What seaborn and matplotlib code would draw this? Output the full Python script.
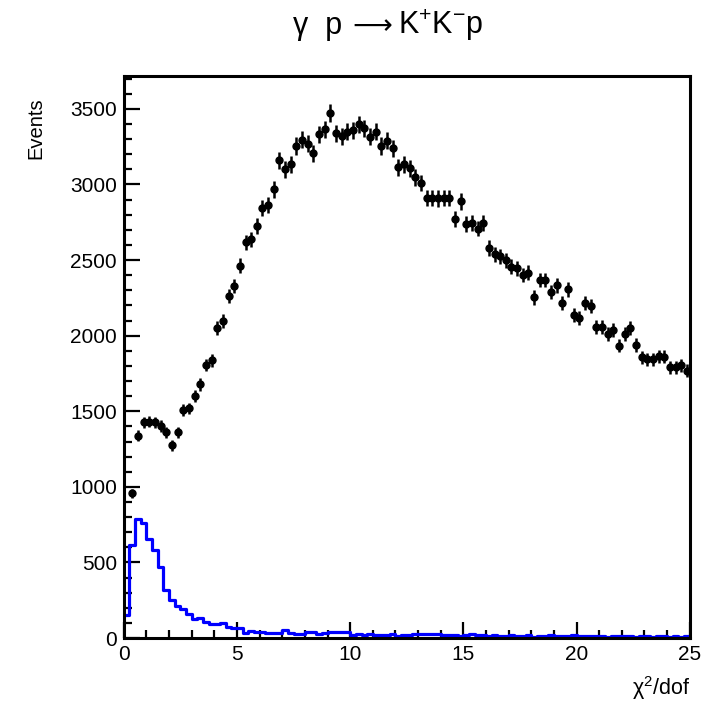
import numpy as np
import pandas as pd
import matplotlib
matplotlib.use("Agg")
import matplotlib.pyplot as plt
import seaborn as sns

# chi2/dof binning: 100 bins of width 0.25 from 0 to 25
bin_edges = np.arange(0, 25.001, 0.25)

# data points (black), first bin is empty
data_centers = np.arange(0.375, 25, 0.25)
data_counts = [
    957, 1338, 1427, 1431, 1427, 1402, 1360, 1276, 1360, 1508,
    1519, 1600, 1678, 1806, 1839, 2052, 2097, 2262, 2328, 2462,
    2617, 2637, 2728, 2845, 2864, 2967, 3159, 3101, 3134, 3254,
    3296, 3270, 3206, 3332, 3365, 3472, 3338, 3318, 3349, 3357,
    3397, 3371, 3316, 3349, 3254, 3289, 3239, 3113, 3135, 3106,
    3047, 3011, 2912, 2912, 2908, 2912, 2912, 2770, 2888, 2740,
    2743, 2708, 2745, 2580, 2537, 2526, 2500, 2456, 2445, 2401,
    2416, 2253, 2368, 2368, 2290, 2333, 2218, 2306, 2136, 2118,
    2218, 2196, 2059, 2059, 2011, 2037, 1933, 2011, 2052, 1938,
    1857, 1845, 1845, 1865, 1860, 1790, 1790, 1805, 1768,
]

# second distribution (blue histogram), one value per bin
blue_counts = [
    152, 615, 785, 759, 653, 582, 467, 317, 251, 212,
    190, 159, 126, 130, 108, 93, 93, 97, 75, 68,
    64, 31, 46, 42, 42, 35, 35, 31, 53, 31,
    29, 29, 40, 38, 29, 35, 40, 38, 42, 40,
    22, 24, 22, 25, 20, 22, 18, 24, 16, 20,
    22, 25, 28, 24, 30, 26, 22, 18, 20, 16,
    20, 24, 18, 20, 16, 18, 14, 16, 18, 12,
    16, 20, 10, 16, 14, 18, 12, 16, 14, 18,
    12, 14, 16, 12, 14, 10, 14, 12, 16, 12,
    10, 14, 12, 10, 14, 12, 10, 12, 8, 12,
]

sns.set_style("ticks")
plt.rcParams["font.family"] = ["Liberation Sans", "DejaVu Sans"]
plt.rcParams["mathtext.default"] = "regular"
plt.rcParams["text.color"] = "black"
plt.rcParams["xtick.labelcolor"] = "black"
plt.rcParams["ytick.labelcolor"] = "black"

fig = plt.figure(figsize=(7.2, 7.21), dpi=100)
ax = fig.add_axes([0.172, 0.115, 0.786, 0.7795])

blue_df = pd.DataFrame({
    "chi2": (bin_edges[:-1] + bin_edges[1:]) / 2,
    "counts": blue_counts,
})
sns.histplot(data=blue_df, x="chi2", weights="counts", bins=list(bin_edges),
             element="step", fill=False, color="#0000ff", linewidth=2.3, ax=ax)

data_counts = np.array(data_counts, dtype=float)
ax.errorbar(data_centers, data_counts, yerr=np.sqrt(data_counts), fmt="o",
            color="black", markersize=5, elinewidth=1.8, capsize=0, zorder=3)

ax.set_xlim(0, 25)
ax.set_ylim(0, 3717)
ax.set_xticks([0, 5, 10, 15, 20, 25])
ax.set_xticks(np.arange(0, 25.1, 1), minor=True)
ax.set_yticks(np.arange(0, 3501, 500))
ax.set_yticks(np.arange(0, 3701, 100), minor=True)
ax.tick_params(which="both", direction="in", top=False, right=False,
               labelsize=15, width=1.6, color="black")
ax.tick_params(which="major", length=11.5, pad=5)
ax.tick_params(which="minor", length=5.5)
for s in ax.spines.values():
    s.set_visible(True)
    s.set_linewidth(2.2)
    s.set_color("black")
ax.set_xlabel("")
ax.set_ylabel("")

# title in three pieces so the arrow can come from DejaVu Sans
ty = 1 - 34 / 721
fig.text(342 / 720, ty, "γ  p", ha="right", va="baseline", fontsize=22)
fig.text(372 / 720, ty, "⟶", ha="center", va="baseline", fontsize=20,
         family="DejaVu Sans")
fig.text(398 / 720, ty, "K$^{+}$K$^{-}$p", ha="left", va="baseline", fontsize=22)

fig.text(36 / 720, 1 - 97 / 721, "Events", rotation=90, ha="center", va="top",
         fontsize=14.5)
fig.text(690 / 720, 1 - 688 / 721, "χ$^{2}$/dof", ha="right", va="center",
         fontsize=15.5)

fig.savefig("out.png", dpi=100)
